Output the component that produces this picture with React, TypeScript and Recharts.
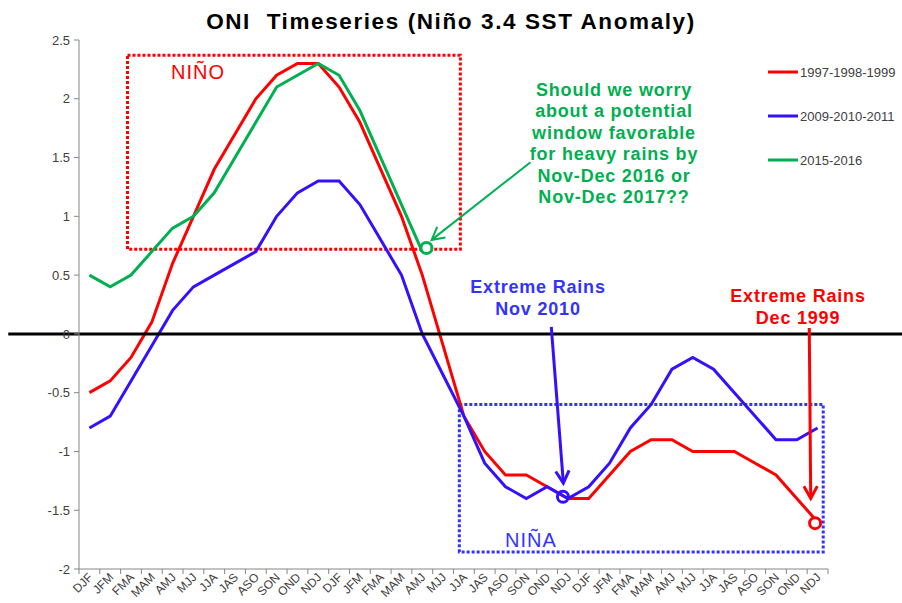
import React from "react";
import {
  LineChart,
  Line,
  XAxis,
  YAxis,
  ReferenceLine,
  ReferenceArea,
  ReferenceDot,
} from "recharts";

// season labels along the x axis (three years of running 3-month seasons)
const seasons = [
  "DJF", "JFM", "FMA", "MAM", "AMJ", "MJJ", "JJA", "JAS", "ASO", "SON", "OND", "NDJ",
  "DJF", "JFM", "FMA", "MAM", "AMJ", "MJJ", "JJA", "JAS", "ASO", "SON", "OND", "NDJ",
  "DJF", "JFM", "FMA", "MAM", "AMJ", "MJJ", "JJA", "JAS", "ASO", "SON", "OND", "NDJ",
];

const oni1997 = [
  -0.5, -0.4, -0.2, 0.1, 0.6, 1.0, 1.4, 1.7, 2.0, 2.2, 2.3, 2.3,
  2.1, 1.8, 1.4, 1.0, 0.5, -0.1, -0.7, -1.0, -1.2, -1.2, -1.3, -1.4,
  -1.4, -1.2, -1.0, -0.9, -0.9, -1.0, -1.0, -1.0, -1.1, -1.2, -1.4, -1.6,
];

const oni2009 = [
  -0.8, -0.7, -0.4, -0.1, 0.2, 0.4, 0.5, 0.6, 0.7, 1.0, 1.2, 1.3,
  1.3, 1.1, 0.8, 0.5, 0.0, -0.35, -0.7, -1.1, -1.3, -1.4, -1.3, -1.4,
  -1.3, -1.1, -0.8, -0.6, -0.3, -0.2, -0.3, -0.5, -0.7, -0.9, -0.9, -0.8,
];

const oni2015 = [
  0.5, 0.4, 0.5, 0.7, 0.9, 1.0, 1.2, 1.5, 1.8, 2.1, 2.2, 2.3,
  2.2, 1.9, 1.5, 1.1, 0.7,
];

const yTicks = [-2, -1.5, -1, -0.5, 0, 0.5, 1, 1.5, 2, 2.5];

const series = [
  { key: "y1997", name: "1997-1998-1999", color: "#FF0000" },
  { key: "y2009", name: "2009-2010-2011", color: "#3311FF" },
  { key: "y2015", name: "2015-2016", color: "#00B050" },
];

// pos = middle of each season's slot on the hidden 0..36 axis
const chartData = seasons.map((s, i) => ({
  season: s,
  pos: i + 0.5,
  y1997: oni1997[i],
  y2009: oni2009[i],
  y2015: i < oni2015.length ? oni2015[i] : null,
}));

const W = 902;
const H = 603;
const MARGIN = { top: 40, right: 74, bottom: 0, left: 0 };
const Y_AXIS_W = 79;
const X_AXIS_H = 34;
const BAND = (W - MARGIN.left - MARGIN.right - Y_AXIS_W) / seasons.length;

const FONT = "'Liberation Sans', Arial, sans-serif";
const AXIS_GREY = "#868686";
const TEXT_GREY = "#404040";

// x tick: tick marks sit between seasons (like Excel), labels rotated 45deg
const SeasonTick = (props: any) => {
  const { x, y, payload, index } = props;
  return (
    <g>
      <line x1={x - BAND / 2} y1={y} x2={x - BAND / 2} y2={y + 5} stroke={AXIS_GREY} />
      {index === seasons.length - 1 && (
        <line x1={x + BAND / 2} y1={y} x2={x + BAND / 2} y2={y + 5} stroke={AXIS_GREY} />
      )}
      <text
        x={x + 4}
        y={y + 9}
        textAnchor="end"
        fontSize={12}
        fill={TEXT_GREY}
        transform={`rotate(-45, ${x + 4}, ${y + 9})`}
      >
        {payload.value}
      </text>
    </g>
  );
};

// line with an open arrow head at the end point
const arrow = (color: string, width: number, head: number) => (props: any) => {
  const { x1, y1, x2, y2 } = props;
  const a = Math.atan2(y2 - y1, x2 - x1);
  const sp = 0.5;
  const p1 = `${x2 - head * Math.cos(a - sp)},${y2 - head * Math.sin(a - sp)}`;
  const p2 = `${x2 - head * Math.cos(a + sp)},${y2 - head * Math.sin(a + sp)}`;
  return (
    <g>
      <line x1={x1} y1={y1} x2={x2} y2={y2} stroke={color} strokeWidth={width} />
      <polyline
        points={`${p1} ${x2},${y2} ${p2}`}
        fill="none"
        stroke={color}
        strokeWidth={width}
        strokeLinejoin="miter"
      />
    </g>
  );
};

const greenNote = [
  "Should we worry",
  "about a potential",
  "window favorable",
  "for heavy rains by",
  "Nov-Dec 2016 or",
  "Nov-Dec 2017??",
];

const App = () => {
  return (
    <div style={{ position: "absolute", left: 0, top: 0, background: "#fff" }}>
      <LineChart
        width={W}
        height={H}
        data={chartData}
        margin={MARGIN}
        style={{ fontFamily: FONT }}
      >
        <XAxis
          dataKey="season"
          interval={0}
          height={X_AXIS_H}
          padding={{ left: BAND / 2, right: BAND / 2 }}
          tickSize={0}
          tickMargin={0}
          tickLine={false}
          axisLine={{ stroke: AXIS_GREY }}
          tick={<SeasonTick />}
        />
        {/* hidden 0..36 season-position axis used for the annotations */}
        <XAxis
          xAxisId="num"
          dataKey="pos"
          type="number"
          domain={[0, 36]}
          allowDataOverflow
          hide
        />
        <YAxis
          width={Y_AXIS_W}
          domain={[-2, 2.5]}
          ticks={yTicks}
          interval={0}
          tickSize={5}
          tickMargin={4}
          axisLine={{ stroke: AXIS_GREY }}
          tickLine={{ stroke: AXIS_GREY }}
          tick={{ fontSize: 13, fill: TEXT_GREY }}
        />

        {/* Nino / Nina boxes */}
        <ReferenceArea
          xAxisId="num"
          x1={2.33}
          x2={18.33}
          y1={0.72}
          y2={2.37}
          fill="none"
          fillOpacity={0}
          stroke="#FF0000"
          strokeWidth={3}
          strokeDasharray="3 2"
          ifOverflow="visible"
        />
        <ReferenceArea
          xAxisId="num"
          x1={18.28}
          x2={35.77}
          y1={-1.855}
          y2={-0.6}
          fill="none"
          fillOpacity={0}
          stroke="#3333FF"
          strokeWidth={3}
          strokeDasharray="3 2"
          ifOverflow="visible"
        />

        {series.map((s) => (
          <Line
            key={s.key}
            dataKey={s.key}
            name={s.name}
            stroke={s.color}
            strokeWidth={3}
            dot={false}
            activeDot={false}
            connectNulls={false}
            isAnimationActive={false}
          />
        ))}

        <ReferenceLine
          xAxisId="num"
          segment={[{ x: -3.4, y: 0 }, { x: 39.6, y: 0 }]}
          stroke="#000"
          strokeWidth={3}
          ifOverflow="visible"
        />

        {/* arrows */}
        <ReferenceLine
          xAxisId="num"
          segment={[{ x: 21.7, y: 1.46 }, { x: 16.95, y: 0.8 }]}
          ifOverflow="visible"
          shape={arrow("#00B050", 2, 14)}
        />
        <ReferenceLine
          xAxisId="num"
          segment={[{ x: 22.7, y: 0.06 }, { x: 23.28, y: -1.27 }]}
          ifOverflow="visible"
          shape={arrow("#3311FF", 3, 14)}
        />
        <ReferenceLine
          xAxisId="num"
          segment={[{ x: 35.1, y: 0.05 }, { x: 35.17, y: -1.4 }]}
          ifOverflow="visible"
          shape={arrow("#FF0000", 3, 14)}
        />

        {/* highlighted points */}
        <ReferenceDot xAxisId="num" x={16.7} y={0.73} r={5.5} fill="#fff" stroke="#00B050" strokeWidth={3} ifOverflow="visible" />
        <ReferenceDot xAxisId="num" x={23.26} y={-1.385} r={5.5} fill="none" stroke="#3311FF" strokeWidth={3} ifOverflow="visible" />
        <ReferenceDot xAxisId="num" x={35.38} y={-1.61} r={5.5} fill="#fff" stroke="#FF0000" strokeWidth={3} ifOverflow="visible" />

        {/* title */}
        <text
          x={451}
          y={29}
          textAnchor="middle"
          fontSize={22.5}
          fontWeight="bold"
          letterSpacing={1.6}
          fill="#000"
          style={{ whiteSpace: "pre" }}
        >
          ONI  Timeseries (Niño 3.4 SST Anomaly)
        </text>

        {/* box labels */}
        <text x={171} y={79} fontSize={20} letterSpacing={1} fill="#FF0000">NIÑO</text>
        <text x={505} y={547} fontSize={20} letterSpacing={1} fill="#3333FF">NIÑA</text>

        {/* notes */}
        <g fontWeight="bold" fontSize={18} letterSpacing={0.8} textAnchor="middle">
          {greenNote.map((t, i) => (
            <text key={i} x={614} y={96 + i * 21.4} fill="#00B050">{t}</text>
          ))}
          <text x={538} y={293} fill="#3333FF">Extreme Rains</text>
          <text x={538} y={315} fill="#3333FF">Nov 2010</text>
          <text x={798} y={302} fill="#FF0000">Extreme Rains</text>
          <text x={798} y={324} fill="#FF0000">Dec 1999</text>
        </g>

        {/* legend */}
        <g fontSize={13} fill={TEXT_GREY}>
          {series.map((s, i) => (
            <g key={s.key}>
              <line x1={768} x2={798} y1={72 + i * 44} y2={72 + i * 44} stroke={s.color} strokeWidth={3} />
              <text x={800} y={76.5 + i * 44} fill={TEXT_GREY}>{s.name}</text>
            </g>
          ))}
        </g>
      </LineChart>
    </div>
  );
};

export default App;
